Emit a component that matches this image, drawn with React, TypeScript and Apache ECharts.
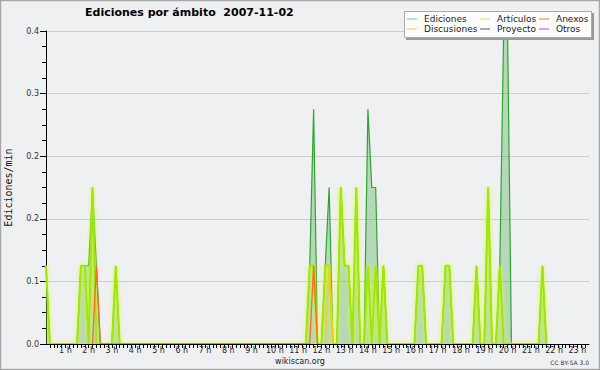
import React, { useEffect, useRef } from 'react';
import * as echarts from 'echarts';

const titleText = 'Ediciones por ámbito  2007-11-02';
const yAxisName = 'Ediciones/min';

// [minute of day, edits per minute]
const ediciones: [number, number][] = [
  [10, 0.1], [20, 0], [90, 0], [100, 0.1], [110, 0.1], [120, 0.1], [130, 0.2], [140, 0.1], [150, 0],
  [180, 0], [190, 0.1], [200, 0],
  [680, 0], [690, 0.1], [700, 0.3], [710, 0], [720, 0], [730, 0.1], [740, 0.2], [750, 0],
  [760, 0], [770, 0.2], [780, 0.1], [790, 0.1], [800, 0], [810, 0.2], [820, 0], [830, 0],
  [840, 0.3], [850, 0.2], [860, 0.2], [870, 0], [880, 0.1], [890, 0],
  [960, 0], [970, 0.1], [980, 0.1], [990, 0], [1030, 0], [1040, 0.1], [1050, 0.1], [1060, 0],
  [1110, 0], [1120, 0.1], [1130, 0], [1140, 0], [1150, 0.2], [1160, 0], [1170, 0],
  [1180, 0.1], [1190, 0.4], [1200, 0.4], [1210, 0], [1280, 0], [1290, 0.1], [1300, 0],
];
const articulos: [number, number][] = [
  [10, 0.1], [20, 0], [90, 0], [100, 0.1], [110, 0.1], [120, 0], [130, 0.2], [140, 0],
  [180, 0], [190, 0.1], [200, 0],
  [680, 0], [690, 0.1], [700, 0.1], [710, 0], [720, 0], [730, 0.1], [740, 0.1], [750, 0],
  [760, 0], [770, 0.2], [780, 0.1], [790, 0.1], [800, 0], [810, 0.2], [820, 0], [830, 0],
  [840, 0.1], [850, 0], [860, 0.1], [870, 0], [880, 0.1], [890, 0],
  [960, 0], [970, 0.1], [980, 0.1], [990, 0], [1030, 0], [1040, 0.1], [1050, 0.1], [1060, 0],
  [1110, 0], [1120, 0.1], [1130, 0], [1140, 0], [1150, 0.2], [1160, 0], [1170, 0],
  [1180, 0.1], [1190, 0], [1280, 0], [1290, 0.1], [1300, 0],
];
const anexos: [number, number][] = [[130, 0], [140, 0.1], [150, 0], [690, 0], [700, 0.1], [710, 0]];
const discusiones: [number, number][] = [[730, 0], [740, 0.1], [750, 0]];
const proyecto: [number, number][] = [];
const otros: [number, number][] = [];

const hourTicks = [60, 120, 180, 240, 300, 360, 420, 480, 540, 600, 660, 720, 780, 840, 900, 960,
  1020, 1080, 1140, 1200, 1260, 1320, 1380];
const hourLabels = ['1 h', '2 h', '3 h', '4 h', '5 h', '6 h', '7 h', '8 h', '9 h', '10 h', '11 h', '12 h',
  '13 h', '14 h', '15 h', '16 h', '17 h', '18 h', '19 h', '20 h', '21 h', '22 h', '23 h'];
const minorTicks = [20, 30, 40, 50, 60, 70, 80, 90, 100, 110, 120, 130, 140, 150, 160, 170, 180, 190, 200,
  210, 220, 230, 240, 250, 260, 270, 280, 290, 300, 310, 320, 330, 340, 350, 360, 370, 380, 390, 400,
  410, 420, 430, 440, 450, 460, 470, 480, 490, 500, 510, 520, 530, 540, 550, 560, 570, 580, 590, 600,
  610, 620, 630, 640, 650, 660, 670, 680, 690, 700, 710, 720, 730, 740, 750, 760, 770, 780, 790, 800,
  810, 820, 830, 840, 850, 860, 870, 880, 890, 900, 910, 920, 930, 940, 950, 960, 970, 980, 990, 1000,
  1010, 1020, 1030, 1040, 1050, 1060, 1070, 1080, 1090, 1100, 1110, 1120, 1130, 1140, 1150, 1160, 1170,
  1180, 1190, 1200, 1210, 1220, 1230, 1240, 1250, 1260, 1270, 1280, 1290, 1300, 1310, 1320, 1330, 1340,
  1350, 1360, 1370, 1380, 1390, 1400];

const colors = {
  ediciones: '#2ea42e',
  edicionesFill: 'rgba(40,150,40,0.4)',
  articulos: '#9ee60f',
  anexos: '#ff6a1a',
  discusiones: '#ffcc11',
  proyecto: '#555555',
  otros: '#9b44ee',
};
const legendColors: Record<string, string> = {
  Ediciones: '#80c880',
  'Artículos': '#cdee5a',
  Anexos: '#f07848',
  Discusiones: '#f5cf48',
  Proyecto: '#555555',
  Otros: '#9b50f0',
};

const FONT = 'DejaVu Sans';

function legendItems(names: string[]) {
  return names.map((n) => ({
    name: n,
    icon: 'rect',
    itemStyle: { color: legendColors[n] },
    lineStyle: { color: legendColors[n], width: 1 },
  }));
}

export default function App() {
  const ref = useRef<HTMLDivElement>(null);
  useEffect(() => {
    document.body.style.margin = '0';
    const chart = echarts.init(ref.current!, null, { renderer: 'svg' });
    const legendBase = {
      orient: 'vertical' as const,
      top: 14,
      padding: 0,
      itemGap: 0,
      itemWidth: 10,
      itemHeight: 1,
      selectedMode: false,
      z: 20,
      textStyle: { fontFamily: FONT, fontSize: 9, lineHeight: 10, color: '#222', padding: [0, 0, 0, 2] },
    };
    chart.setOption({
      animation: false,
      backgroundColor: '#eff0f1',
      title: {
        text: titleText,
        left: 85,
        top: 7,
        padding: 0,
        textStyle: { fontFamily: FONT, fontSize: 11, fontWeight: 'bold', color: '#000' },
      },
      legend: [
        { ...legendBase, left: 407, data: legendItems(['Ediciones', 'Discusiones']) },
        { ...legendBase, left: 480, data: legendItems(['Artículos', 'Proyecto']) },
        { ...legendBase, left: 539, data: legendItems(['Anexos', 'Otros']) },
      ],
      graphic: [
        { type: 'rect', z: 0, shape: { x: 0.5, y: 0.5, width: 599, height: 369 }, style: { fill: 'none', stroke: '#a8a8a8', lineWidth: 1.5 }, silent: true },
        { type: 'rect', z: 15, shape: { x: 406, y: 13, width: 188, height: 27 }, style: { fill: '#999' }, silent: true },
        { type: 'rect', z: 16, shape: { x: 404.5, y: 11.5, width: 187, height: 26 }, style: { fill: '#fcfcfc', stroke: '#aaa', lineWidth: 1 }, silent: true },
        { type: 'text', z: 16, x: 300, y: 361, style: { text: 'wikiscan.org', font: `8px ${FONT}`, fill: '#222', align: 'center', verticalAlign: 'middle' } },
        { type: 'text', z: 16, x: 589, y: 362, style: { text: 'CC BY-SA 3.0', font: `6px ${FONT}`, fill: '#333', align: 'right', verticalAlign: 'middle' } },
      ],
      grid: {
        left: 46, right: 11, top: 31, bottom: 26, show: true, backgroundColor: '#eff0f2', borderWidth: 0,
        outerBoundsMode: 'none', containLabel: false,
      },
      xAxis: [
        {
          type: 'value',
          min: 10,
          max: 1410,
          z: 10,
          splitLine: { show: false },
          axisLine: { lineStyle: { color: '#000', width: 1 } },
          axisTick: { customValues: minorTicks, length: 4, lineStyle: { color: '#000' } },
          axisLabel: {
            customValues: hourTicks,
            formatter: (v: number) => hourLabels[hourTicks.indexOf(v)] ?? '',
            fontFamily: FONT,
            fontSize: 8,
            color: '#222',
            margin: 2,
          },
        },
      ],
      yAxis: {
        type: 'value',
        min: 0,
        max: 0.4,
        interval: 0.08,
        name: yAxisName,
        nameLocation: 'middle',
        nameGap: 33,
        nameTextStyle: { fontFamily: 'DejaVu Sans Mono', fontSize: 10, color: '#111' },
        axisLine: { show: true, lineStyle: { color: '#000' } },
        axisTick: { show: true, length: 6, lineStyle: { color: '#000' } },
        minorTick: { show: true, splitNumber: 4, length: 4, lineStyle: { color: '#000' } },
        splitLine: { lineStyle: { color: '#cccccc' } },
        axisLabel: {
          formatter: (v: number) => v.toFixed(1),
          fontFamily: FONT,
          fontSize: 8,
          color: '#333',
          margin: 7,
        },
      },
      series: [
        {
          name: 'Ediciones', type: 'line', data: ediciones, symbol: 'none', z: 2,
          lineStyle: { color: colors.ediciones, width: 1.2 },
          itemStyle: { color: colors.ediciones },
          areaStyle: { color: colors.edicionesFill },
        },
        {
          name: 'Artículos', type: 'line', data: articulos, symbol: 'none', z: 3,
          lineStyle: { color: colors.articulos, width: 2, shadowBlur: 4, shadowColor: 'rgba(215,255,40,1)' },
          itemStyle: { color: colors.articulos },
        },
        {
          name: 'Anexos', type: 'line', data: anexos, symbol: 'none', z: 4,
          lineStyle: { color: colors.anexos, width: 1.3 }, itemStyle: { color: colors.anexos },
        },
        {
          name: 'Discusiones', type: 'line', data: discusiones, symbol: 'none', z: 4,
          lineStyle: { color: colors.discusiones, width: 1.3 }, itemStyle: { color: colors.discusiones },
        },
        {
          name: 'Proyecto', type: 'line', data: proyecto, symbol: 'none', z: 4,
          lineStyle: { color: colors.proyecto, width: 1 }, itemStyle: { color: colors.proyecto },
        },
        {
          name: 'Otros', type: 'line', data: otros, symbol: 'none', z: 4,
          lineStyle: { color: colors.otros, width: 1 }, itemStyle: { color: colors.otros },
        },
      ],
    });
    return () => chart.dispose();
  }, []);
  return <div ref={ref} style={{ width: 600, height: 370 }} />;
}
